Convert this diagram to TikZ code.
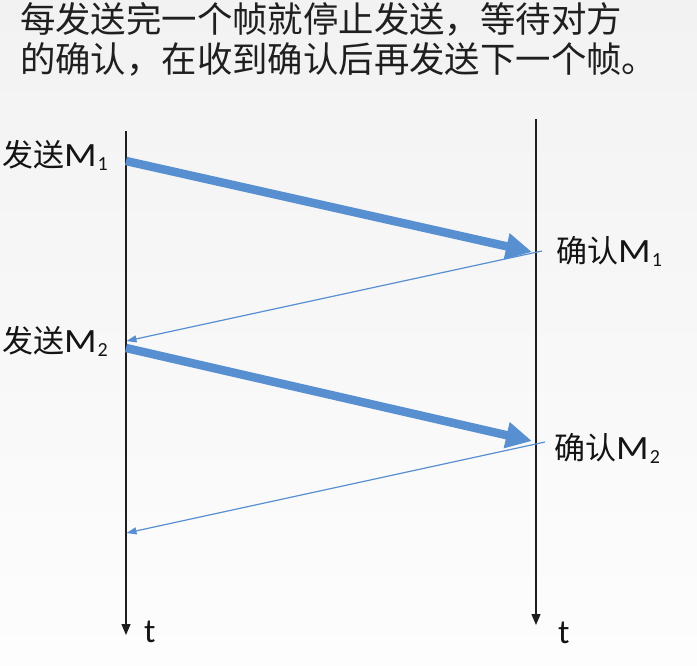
\documentclass[tikz,border=0pt]{standalone}
\usepackage{fontspec}
\usepackage{graphicx}
\newfontfamily\cjk{Noto Sans CJK SC}
\newfontfamily\lat{Carlito}
\usetikzlibrary{arrows.meta}
\definecolor{flowblue}{RGB}{88,143,208}
\definecolor{axisblack}{RGB}{30,30,30}
\definecolor{bgtop}{RGB}{242,242,242}
\definecolor{bgbot}{RGB}{253,253,253}
\newcommand{\mlab}[1]{{\lat\fontsize{34}{36}\selectfont\scalebox{1.12}[1]{M}\hspace{1pt}\raisebox{-4pt}{\fontsize{20}{21}\selectfont #1}}}
\tikzset{
  axisline/.style={draw=axisblack, line width=1.4pt, -{Triangle[length=11pt,width=9pt]}},
  dataarrow/.style={draw=flowblue, line width=8.5pt, -{Triangle[length=26pt,width=25pt]}},
  ackarrow/.style={draw=flowblue, line width=1.2pt, -{Triangle[length=10pt,width=7pt]}},
  titletext/.style={inner sep=0pt, anchor=base west, text=black!88, font=\cjk\fontsize{35.4}{40}\selectfont},
  sendlabel/.style={inner sep=0pt, anchor=base east, text=black!92, font=\cjk\fontsize{31}{33}\selectfont},
  acklabel/.style={inner sep=0pt, anchor=base west, text=black!92, font=\cjk\fontsize{31}{33}\selectfont},
  tlabel/.style={inner sep=0pt, anchor=base west, text=black!92, font=\lat\fontsize{34}{36}\selectfont}
}
\begin{document}
\begin{tikzpicture}[x=1pt,y=-1pt]
\useasboundingbox (0,0) rectangle (697,665);
\shade[top color=bgtop, bottom color=bgbot] (0,0) rectangle (697,665);

% title
\node[titletext] (title1) at (20,32.5) {每发送完一个帧就停止发送，等待对方};
\node[titletext] (title2) at (20,72.5) {的确认，在收到确认后再发送下一个帧。};

% time axes
\coordinate (ltop) at (126,131);
\coordinate (lbot) at (126,635);
\coordinate (rtop) at (536,119);
\coordinate (rbot) at (536,625);
\draw[axisline] (ltop) -- (lbot);
\draw[axisline] (rtop) -- (rbot);

% end points
\coordinate (s1) at (126,161);
\coordinate (r1) at (532,252);
\coordinate (a1s) at (542,251);
\coordinate (a1e) at (126.5,341);
\coordinate (s2) at (126,348);
\coordinate (r2) at (532,441);
\coordinate (a2s) at (545,442);
\coordinate (a2e) at (126.5,533);

\draw[dataarrow] (s1) -- (r1);
\draw[ackarrow] (a1s) -- (a1e);
\draw[dataarrow] (s2) -- (r2);
\draw[ackarrow] (a2s) -- (a2e);

% labels
\node[sendlabel] (send1) at (108,166) {发送\mlab{1}};
\node[sendlabel] (send2) at (108,352) {发送\mlab{2}};
\node[acklabel] (ack1) at (556,262) {确认\mlab{1}};
\node[acklabel] (ack2) at (554,459) {确认\mlab{2}};
\node[tlabel] (tleft) at (144,642) {t};
\node[tlabel] (tright) at (558,643) {t};
\end{tikzpicture}
\end{document}
